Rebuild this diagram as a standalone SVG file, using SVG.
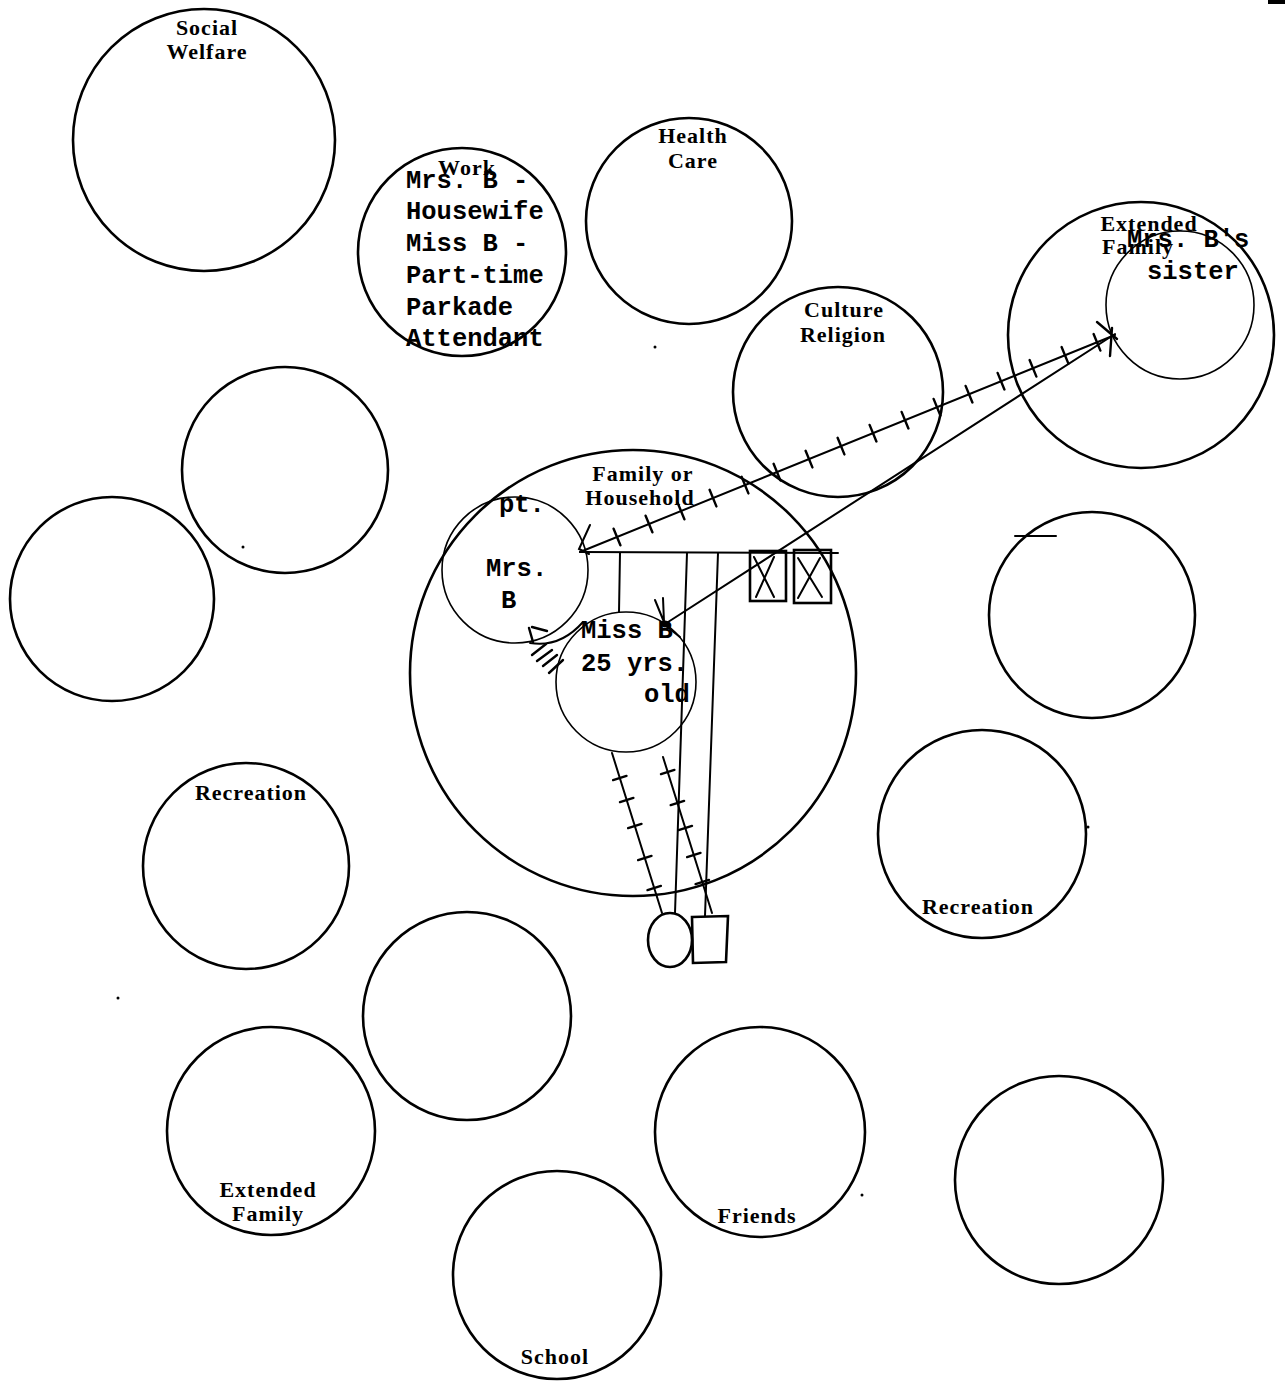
<svg xmlns="http://www.w3.org/2000/svg" width="1285" height="1382" viewBox="0 0 1285 1382">
<style>
.c{fill:none;stroke:#000;stroke-width:2.6}
.ci{fill:none;stroke:#000;stroke-width:1.6}
.l{fill:none;stroke:#000;stroke-width:2;stroke-linecap:round}
.t{stroke:#000;stroke-width:2.4;stroke-linecap:round}
.lab{font-family:"Liberation Serif","Times New Roman",serif;font-weight:bold;font-size:22px;letter-spacing:1px;text-anchor:middle;fill:#000}
.mono{font-family:"Liberation Mono","Courier New",monospace;font-size:25.5px;font-weight:bold;fill:#000}
</style>
<rect width="1285" height="1382" fill="#fff"/>

<g id="social-welfare"><circle class="c" cx="204" cy="140" r="131"/><text class="lab" x="207" y="35">Social</text><text class="lab" x="207" y="59">Welfare</text></g>
<g id="work"><circle class="c" cx="462" cy="252" r="104"/><text class="lab" x="467" y="175">Work</text>
<text class="mono" x="406" y="188">Mrs. B -</text><text class="mono" x="406" y="219">Housewife</text><text class="mono" x="406" y="251">Miss B -</text><text class="mono" x="406" y="283">Part-time</text><text class="mono" x="406" y="315">Parkade</text><text class="mono" x="406" y="346">Attendant</text></g>
<g id="health-care"><circle class="c" cx="689" cy="221" r="103"/><text class="lab" x="693" y="143">Health</text><text class="lab" x="693" y="168">Care</text></g>
<g id="extended-family-top"><circle class="c" cx="1141" cy="335" r="133"/><text class="lab" x="1149" y="231">Extended</text><text class="lab" x="1138" y="254">Family</text></g>
<g id="sister"><circle class="ci" cx="1180" cy="305" r="74"/><text class="mono" x="1127" y="247">Mrs. B's</text><text class="mono" x="1147" y="279">sister</text></g>
<g id="culture-religion"><circle class="c" cx="838" cy="392" r="105"/><text class="lab" x="844" y="317">Culture</text><text class="lab" x="843" y="342">Religion</text></g>
<g id="blank-1"><circle class="c" cx="285" cy="470" r="103"/></g>
<g id="blank-2"><circle class="c" cx="112" cy="599" r="102"/></g>
<g id="family-household"><circle class="c" cx="633" cy="673" r="223"/><text class="lab" x="643" y="481">Family or</text><text class="lab" x="640" y="505">Household</text></g>
<g id="mrs-b"><circle class="ci" cx="515" cy="570" r="73"/><text class="mono" x="499" y="512">pt.</text><text class="mono" x="486" y="576">Mrs.</text><text class="mono" x="501" y="608">B</text></g>
<g id="miss-b"><circle class="ci" cx="626" cy="682" r="70"/><text class="mono" x="581" y="638">Miss B</text><text class="mono" x="581" y="671">25 yrs.</text><text class="mono" x="644" y="702">old</text></g>
<g id="blank-3"><circle class="c" cx="1092" cy="615" r="103"/><line class="l" x1="1015" y1="536" x2="1056" y2="536"/></g>
<g id="recreation-left"><circle class="c" cx="246" cy="866" r="103"/><text class="lab" x="251" y="800">Recreation</text></g>
<g id="recreation-right"><circle class="c" cx="982" cy="834" r="104"/><text class="lab" x="978" y="914">Recreation</text></g>
<g id="blank-4"><circle class="c" cx="467" cy="1016" r="104"/></g>
<g id="extended-family-bottom"><circle class="c" cx="271" cy="1131" r="104"/><text class="lab" x="268" y="1197">Extended</text><text class="lab" x="268" y="1221">Family</text></g>
<g id="friends"><circle class="c" cx="760" cy="1132" r="105"/><text class="lab" x="757" y="1223">Friends</text></g>
<g id="blank-5"><circle class="c" cx="1059" cy="1180" r="104"/></g>
<g id="school"><circle class="c" cx="557" cy="1275" r="104"/><text class="lab" x="555" y="1364">School</text></g>

<g id="female-child"><ellipse class="c" cx="670" cy="940" rx="22" ry="27"/></g>
<g id="male-child"><path class="c" d="M692,917 L728,916 L726,962 L693,963 Z"/></g>
<g id="deceased-1"><rect class="c" x="750" y="551" width="36" height="50"/><path class="l" d="M754,557 L774,597 M774,557 L756,597"/></g>
<g id="deceased-2"><rect class="c" x="794" y="550" width="37" height="53"/><path class="l" d="M798,558 L822,597 M820,558 L798,598"/></g>

<g id="connectors">
<line class="l" x1="580" y1="552" x2="838" y2="553" stroke-width="3"/>
<line class="l" x1="620" y1="553" x2="619" y2="612"/>
<line class="l" x1="687" y1="553" x2="675" y2="913"/>
<line class="l" x1="718" y1="553" x2="705" y2="916"/>
<line class="l" x1="580" y1="552" x2="1115" y2="335"/>
<path class="t" d="M613.6,528.7L620.4,545.3M645.6,515.7L652.4,532.3M677.6,502.7L684.4,519.3M709.6,489.8L716.4,506.4M741.6,476.8L748.4,493.4M773.6,463.8L780.4,480.4M805.6,450.8L812.4,467.4M837.6,437.8L844.4,454.4M869.6,424.9L876.4,441.5M901.6,411.9L908.4,428.5M933.6,398.9L940.4,415.5M965.6,385.9L972.4,402.5M997.6,372.9L1004.4,389.5M1029.6,360.0L1036.4,376.6M1061.6,347.0L1068.4,363.6M1093.6,334.0L1100.4,350.6"/>
<path class="l" d="M590,525 L579,549 L589,554" stroke-width="2.4"/>
<line class="l" x1="665" y1="624" x2="1115" y2="334"/>
<path class="l" d="M655,600 L664,622 L663,598 M666,626 L680,637" stroke-width="2.4"/>
<circle cx="665" cy="624" r="3.5" fill="#000"/>
<path class="t" d="M1097,322 L1117,339 M1112,328 L1110,356" stroke-width="4"/>
<line class="l" x1="612" y1="753" x2="662" y2="913"/>
<path class="t" d="M613.1,780.1L626.5,775.9M620,802.1L633.4,797.9M628.1,828.1L641.5,823.9M638.1,860.1L651.5,855.9M647.5,890.1L660.9,885.9"/>
<line class="l" x1="663" y1="757" x2="712" y2="913"/>
<path class="t" d="M661,774.1L674.4,769.9M670.7,805.1L684.1,800.9M678.6,830.1L692,825.9M687.1,857.1L700.5,852.9M695.6,884.1L709,879.9"/>
<path class="l" d="M530,643 Q560,648 583,622"/>
<path class="t" d="M529,628 L533,642 M532,627 L547,631 M532,655 L546,644 M537,661 L552,650 M543,666 L557,655 M549,673 L563,660"/>
</g>

<g id="specks" fill="#000">
<circle cx="243" cy="547" r="1.5"/><circle cx="655" cy="347" r="1.5"/><circle cx="118" cy="998" r="1.5"/><circle cx="1088" cy="827" r="1.5"/><circle cx="862" cy="1195" r="1.5"/>
<rect x="1268" y="0" width="17" height="4"/>
</g>
</svg>
